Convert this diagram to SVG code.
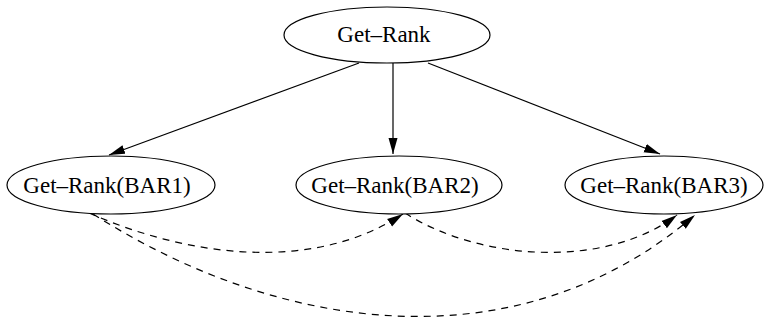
<svg xmlns="http://www.w3.org/2000/svg" width="764" height="320" viewBox="0 0 764 320">
<style>
.node ellipse{fill:#fff;stroke:#000;stroke-width:1.2}
.node text{font-family:"Liberation Serif","Times New Roman",serif;font-size:23px;fill:#000;text-anchor:middle}
.solid{fill:none;stroke:#000;stroke-width:1.2}
.dash{fill:none;stroke:#000;stroke-width:1.2;stroke-dasharray:7,6}
</style>
<defs>
<marker id="ah" markerUnits="userSpaceOnUse" markerWidth="17" markerHeight="10" refX="16" refY="4.5" orient="auto" viewBox="0 0 17 9">
<path d="M0,0 L16,4.5 L0,9 Z" fill="#000"/>
</marker>
</defs>
<g id="edges">
<path class="solid" d="M359,63 L109,155" marker-end="url(#ah)"/>
<path class="solid" d="M393,63 L393,154" marker-end="url(#ah)"/>
<path class="solid" d="M428,63 L660,154" marker-end="url(#ah)"/>
<path class="dash" d="M89,213 C189,257 313,273 403,214" marker-end="url(#ah)"/>
<path class="dash" d="M405,213 C478,260 604,270 677,215" marker-end="url(#ah)"/>
<path class="dash" d="M93,214 C283,335 520,365 695,215" marker-end="url(#ah)"/>
</g>
<g id="n0" class="node"><ellipse cx="387" cy="35" rx="103" ry="28"/><text x="384" y="42">Get–Rank</text></g>
<g id="n1" class="node"><ellipse cx="111" cy="185" rx="104" ry="29"/><text x="107" y="193">Get–Rank(BAR1)</text></g>
<g id="n2" class="node"><ellipse cx="399" cy="185" rx="103" ry="29"/><text x="395" y="193">Get–Rank(BAR2)</text></g>
<g id="n3" class="node"><ellipse cx="664" cy="185" rx="99" ry="29"/><text x="664" y="193">Get–Rank(BAR3)</text></g>
</svg>
